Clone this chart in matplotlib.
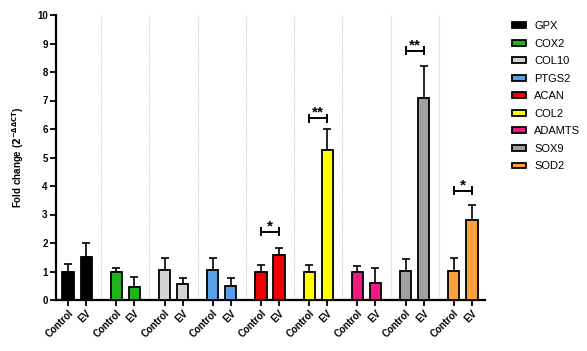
import matplotlib
matplotlib.use("Agg")
import matplotlib.pyplot as plt
import numpy as np
from matplotlib.patches import Patch

plt.rcParams['font.family'] = ['Liberation Sans', 'DejaVu Sans']

genes = ["GPX", "COX2", "COL10", "PTGS2", "ACAN", "COL2", "ADAMTS", "SOX9", "SOD2"]
colors = ["#000000", "#1fb41f", "#d4d4d4", "#5a9ee8", "#f00000", "#ffff00", "#ee1a82", "#a0a0a4", "#ffa040"]
control_mean = [1.00, 0.97, 1.04, 1.04, 1.00, 0.99, 0.97, 1.02, 1.02]
control_err = [0.28, 0.15, 0.45, 0.45, 0.22, 0.24, 0.22, 0.42, 0.46]
ev_mean = [1.52, 0.45, 0.57, 0.48, 1.58, 5.27, 0.58, 7.09, 2.81]
ev_err = [0.48, 0.35, 0.21, 0.30, 0.25, 0.73, 0.53, 1.11, 0.51]
sig_genes = ["ACAN", "COL2", "SOX9", "SOD2"]
sig_labels = ["*", "**", "**", "*"]
sig_heights = [2.4, 6.37, 8.75, 3.83]
yticks = list(range(0, 11))

fig = plt.figure(figsize=(5.87, 3.51), dpi=100)
ax = fig.add_axes([56/587, 1-300/351, (485-56)/587, (300-15)/351])

gs = 48/18
xc = np.arange(len(genes)) * gs
xe = xc + 1
w = 0.62
for i, g in enumerate(genes):
    ax.bar(xc[i], control_mean[i], w, color=colors[i], edgecolor='black', linewidth=1.3, zorder=3)
    ax.bar(xe[i], ev_mean[i], w, color=colors[i], edgecolor='black', linewidth=1.3, zorder=3)
    ax.errorbar([xc[i], xe[i]], [control_mean[i], ev_mean[i]],
                yerr=[[0, 0], [control_err[i], ev_err[i]]],
                fmt='none', ecolor='black', elinewidth=1.2, capsize=2.8, capthick=1.2, zorder=2)

for i in range(len(genes)-1):
    xd = xc[i] + 1 + 15/18
    ax.plot([xd, xd], [0, 10], color='#c8c8c8', lw=0.8, ls=(0, (1, 1)), zorder=1)

for g, lab, h in zip(sig_genes, sig_labels, sig_heights):
    i = genes.index(g)
    ax.plot([xc[i], xe[i]], [h, h], color='black', lw=1.4)
    for xx in (xc[i], xe[i]):
        ax.plot([xx, xx], [h-0.12, h+0.12], color='black', lw=1.4)
    ax.text((xc[i]+xe[i])/2, h - 0.05, lab, ha='center', va='bottom', fontsize=11, fontweight='bold')

ax.set_xlim(-12/18, xe[-1] + 13/18)
ax.set_ylim(0, 10)
ax.set_yticks(yticks)
ax.set_yticklabels([str(t) for t in yticks], fontsize=7, fontweight='bold')
ticks = []
labels = []
for i in range(len(genes)):
    ticks += [xc[i], xe[i]]
    labels += ["Control", "EV"]
ax.set_xticks(ticks)
ax.set_xticklabels(labels, rotation=45, ha='right', rotation_mode='anchor', fontsize=7, fontweight='bold')
ax.tick_params(axis='both', width=1.3, length=4, pad=2)
for s in ['top', 'right']:
    ax.spines[s].set_visible(False)
for s in ['left', 'bottom']:
    ax.spines[s].set_linewidth(1.6)
ax.set_ylabel(r"Fold change ($\mathbf{2^{-\Delta\Delta CT}}$)", fontsize=7, fontweight='bold', labelpad=8)

handles = [Patch(facecolor=c, edgecolor='black', linewidth=1.3) for c in colors]
fig.legend(handles, genes, loc='upper left', bbox_to_anchor=(502/587, 1-11/351), frameon=False,
           fontsize=8, handlelength=1.25, handleheight=0.45, labelspacing=0.68, handletextpad=0.75)

fig.savefig("out.png", dpi=100)
